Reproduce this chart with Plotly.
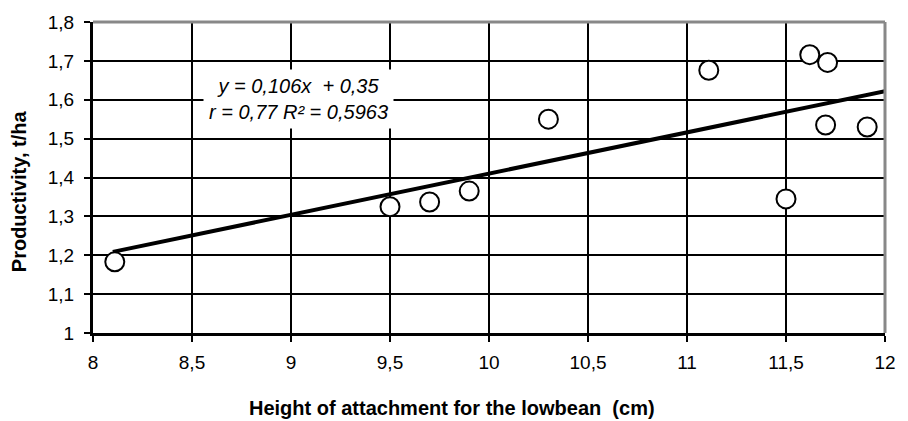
import plotly.graph_objects as go

# Data
height_cm = [8.11, 9.5, 9.7, 9.9, 10.3, 11.11, 11.5, 11.62, 11.71, 11.7, 11.91]
productivity = [1.183, 1.325, 1.337, 1.365, 1.55, 1.676, 1.345, 1.716, 1.696, 1.535, 1.53]

slope = 0.106
intercept = 0.35
trend_x = [8.1, 12.0]
trend_y = [slope * v + intercept for v in trend_x]

x_ticks = [8, 8.5, 9, 9.5, 10, 10.5, 11, 11.5, 12]
y_ticks = [1, 1.1, 1.2, 1.3, 1.4, 1.5, 1.6, 1.7, 1.8]

FONT = "Liberation Sans, Arial, sans-serif"
W, H = 908, 421
ML, MR, MT, MB = 93, 19, 18, 88
PW, PH = W - ML - MR, H - MT - MB

fig = go.Figure()
fig.add_trace(go.Scatter(x=trend_x, y=trend_y, mode="lines",
                         line=dict(color="black", width=4), hoverinfo="skip"))
fig.add_trace(go.Scatter(x=height_cm, y=productivity, mode="markers",
                         marker=dict(size=19, color="white", symbol="circle",
                                     line=dict(color="black", width=2))))

fig.update_layout(
    width=W, height=H,
    margin=dict(l=ML, r=MR, t=MT, b=MB),
    paper_bgcolor="white", plot_bgcolor="white",
    showlegend=False,
    separators=", ",
    font=dict(family=FONT, size=19, color="black"),
)
fig.update_xaxes(
    range=[8, 12], tickvals=x_ticks, showgrid=True, gridcolor="black", gridwidth=2,
    showline=True, linecolor="black", linewidth=3,
    ticks="outside", ticklen=6, tickwidth=2, tickcolor="black",
    tickfont=dict(size=19), zeroline=False, ticklabelstandoff=4,
)
fig.update_yaxes(
    range=[1, 1.8], tickvals=y_ticks, showgrid=True, gridcolor="black", gridwidth=2,
    showline=True, linecolor="black", linewidth=3,
    ticks="outside", ticklen=6, tickwidth=2, tickcolor="black",
    tickfont=dict(size=19), zeroline=False, ticklabelstandoff=6,
)

# gray top and right borders of the plot area
fig.add_shape(type="line", xref="paper", yref="paper", x0=0, x1=1, y0=1, y1=1,
              line=dict(color="#888888", width=3), layer="above")
fig.add_shape(type="line", xref="paper", yref="paper", x0=1, x1=1, y0=0, y1=1,
              line=dict(color="#888888", width=3), layer="above")

# axis titles
fig.add_annotation(
    text="<b>Height of attachment for the lowbean  (cm)</b>",
    xref="paper", yref="paper",
    x=(454 - ML) / PW, y=-(409 - (MT + PH)) / PH,
    xanchor="center", yanchor="middle", showarrow=False,
    font=dict(size=20, family=FONT),
)
fig.add_annotation(
    text="<b>Productivity, t/ha</b>",
    xref="paper", yref="paper",
    x=(18 - ML) / PW, y=((MT + PH) - 189) / PH,
    xanchor="center", yanchor="middle", showarrow=False, textangle=-90,
    font=dict(size=20, family=FONT),
)

# regression equation box
fig.add_annotation(
    x=9.04, y=1.601, xref="x", yref="y",
    text="<i>y = 0,106x  + 0,35</i><br><i>r = 0,77 R² = 0,5963</i>",
    showarrow=False, bgcolor="white", borderpad=5,
    font=dict(size=20, family=FONT), align="center",
)

fig.write_html("out.html")
